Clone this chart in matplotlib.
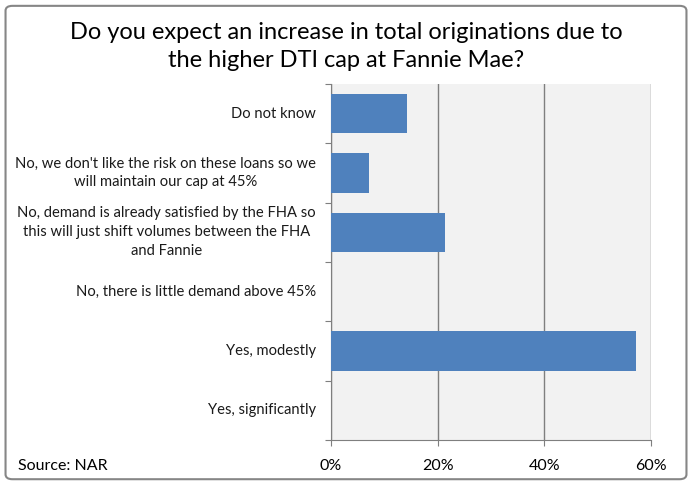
import matplotlib.pyplot as plt
from matplotlib.patches import FancyBboxPatch
from matplotlib.ticker import FuncFormatter, MultipleLocator

categories = [
    "Do not know",
    "No, we don't like the risk on these loans so we\nwill maintain our cap at 45%",
    "No, demand is already satisfied by the FHA so\nthis will just shift volumes between the FHA\nand Fannie",
    "No, there is little demand above 45%",
    "Yes, modestly",
    "Yes, significantly",
]
shares = [14.3, 7.1, 21.4, 0.0, 57.1, 0.0]

plt.rcParams['font.family'] = ['Lato', 'DejaVu Sans']

fig = plt.figure(figsize=(6.92, 4.87), dpi=100)
ax = fig.add_axes([0.478, 0.0965, 0.463, 0.731])

ypos = list(range(len(categories)))
ax.barh(ypos, shares, height=0.66, color="#4F81BD", zorder=3)
ax.set_ylim(len(categories) - 0.5, -0.5)
ax.set_xlim(0, 60)
ax.set_facecolor("#F2F2F2")

ax.xaxis.set_major_locator(MultipleLocator(20))
ax.xaxis.set_major_formatter(FuncFormatter(lambda v, p: f"{v:.0f}%"))
ax.grid(axis="x", color="#7F7F7F", linewidth=1.0, zorder=1)

# category labels: right-aligned block, lines centred; ticks on boundaries
ax.set_yticks([y + 0.5 for y in ypos] + [-0.5])
ax.set_yticklabels([])
ax.tick_params(axis="y", length=4, color="#7F7F7F")
ax.tick_params(axis="x", length=4, color="#7F7F7F", labelsize=11.5, pad=10)
for y, lab in zip(ypos, categories):
    ax.text(-0.047, y, lab, transform=ax.get_yaxis_transform(),
            ha="right", va="center", multialignment="center", fontsize=10.6,
            linespacing=1.45, color="#1A1A1A")

for s in ["top", "right"]:
    ax.spines[s].set_visible(False)
for s in ["left", "bottom"]:
    ax.spines[s].set_color("#7F7F7F")

fig.text(0.5, 0.905, "Do you expect an increase in total originations due to\n"
         "the higher DTI cap at Fannie Mae?", ha="center", va="center",
         fontsize=17, linespacing=1.4)
fig.text(0.026, 0.043, "Source: NAR", ha="left", va="center", fontsize=11.5)

border = FancyBboxPatch((0.008, 0.016), 0.984, 0.972, boxstyle="round,pad=0,rounding_size=0.01",
                        transform=fig.transFigure, fill=False, edgecolor="#868686",
                        linewidth=1.5)
fig.patches.append(border)

fig.savefig("out.png", dpi=100)
